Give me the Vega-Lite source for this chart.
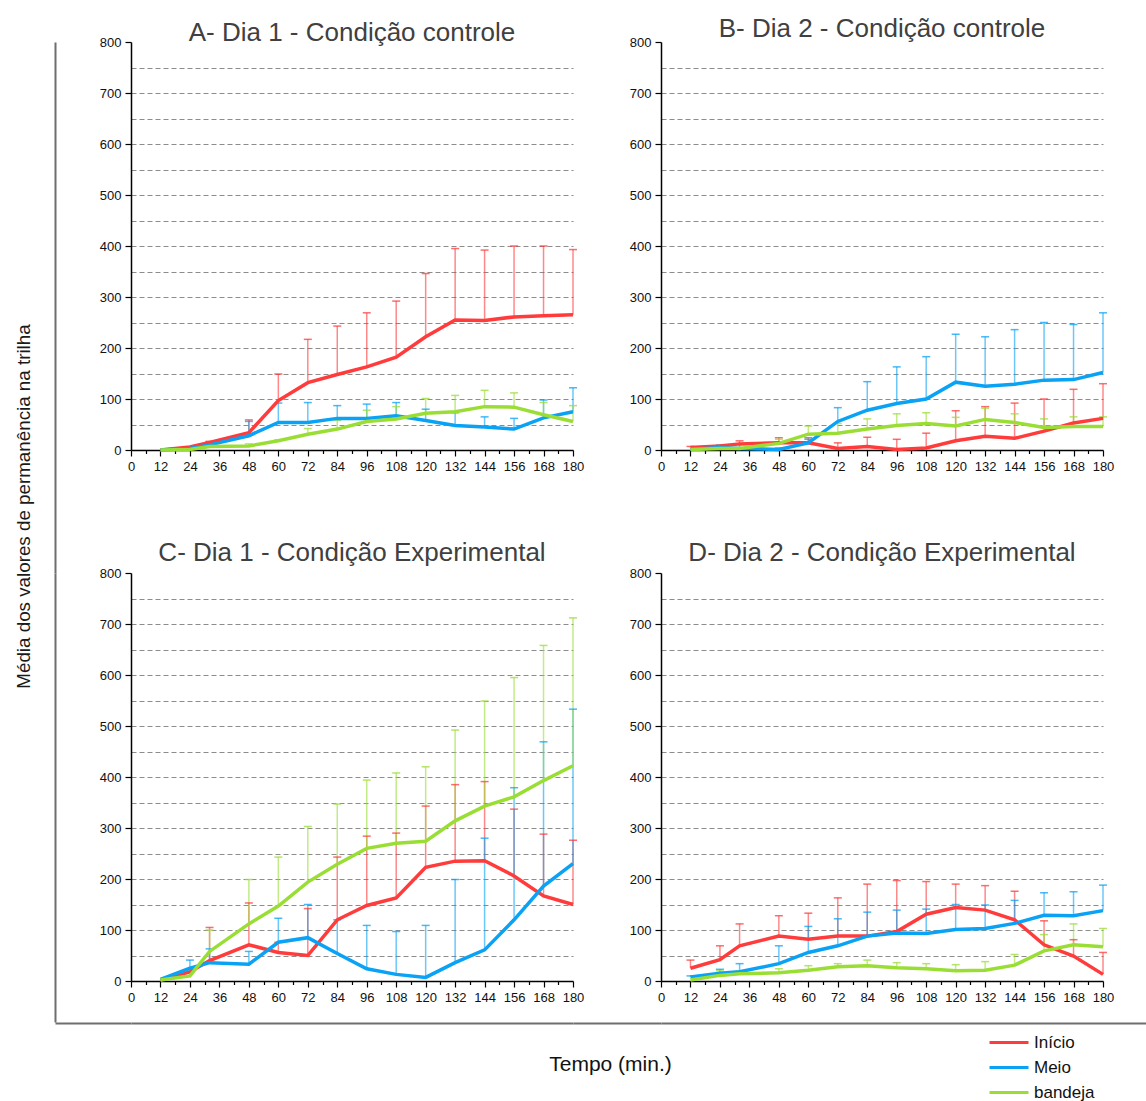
{
  "$schema": "https://vega.github.io/schema/vega-lite/v6.json",
  "background": "white",
  "padding": {"left": 14, "top": 16, "right": 0, "bottom": 0},
  "columns": 4,
  "bounds": "flush",
  "spacing": {"row": 0, "column": 0},
  "resolve": {"scale": {"color": "independent"}, "legend": {"color": "independent"}},
  "config": {
    "view": {"stroke": null},
    "font": "Liberation Sans",
    "title": {"font": "Liberation Sans", "fontSize": 26, "fontWeight": "normal", "color": "#404040", "frame": "group", "anchor": "middle", "baseline": "alphabetic"}
  },
  "datasets": {
    "medias": [
      {"p":"A","s":"Início","t":12,"m":0,"e":0},{"p":"A","s":"Início","t":24,"m":6,"e":6},{"p":"A","s":"Início","t":32,"m":15,"e":17},{"p":"A","s":"Início","t":48,"m":34,"e":59},{"p":"A","s":"Início","t":60,"m":97,"e":149},{"p":"A","s":"Início","t":72,"m":132,"e":217},{"p":"A","s":"Início","t":84,"m":148,"e":243},{"p":"A","s":"Início","t":96,"m":163,"e":269},{"p":"A","s":"Início","t":108,"m":182,"e":292},{"p":"A","s":"Início","t":120,"m":222,"e":346},{"p":"A","s":"Início","t":132,"m":255,"e":395},{"p":"A","s":"Início","t":144,"m":254,"e":392},{"p":"A","s":"Início","t":156,"m":261,"e":400},{"p":"A","s":"Início","t":168,"m":263,"e":400},{"p":"A","s":"Início","t":180,"m":265,"e":393},
      {"p":"A","s":"Meio","t":12,"m":0,"e":0},{"p":"A","s":"Meio","t":24,"m":3,"e":3},{"p":"A","s":"Meio","t":32,"m":10,"e":16},{"p":"A","s":"Meio","t":48,"m":28,"e":56},{"p":"A","s":"Meio","t":60,"m":54,"e":92},{"p":"A","s":"Meio","t":72,"m":54,"e":93},{"p":"A","s":"Meio","t":84,"m":62,"e":87},{"p":"A","s":"Meio","t":96,"m":62,"e":90},{"p":"A","s":"Meio","t":108,"m":67,"e":93},{"p":"A","s":"Meio","t":120,"m":58,"e":80},{"p":"A","s":"Meio","t":132,"m":48,"e":73},{"p":"A","s":"Meio","t":144,"m":45,"e":65},{"p":"A","s":"Meio","t":156,"m":41,"e":62},{"p":"A","s":"Meio","t":168,"m":63,"e":98},{"p":"A","s":"Meio","t":180,"m":75,"e":122},
      {"p":"A","s":"bandeja","t":12,"m":0,"e":0},{"p":"A","s":"bandeja","t":24,"m":1,"e":1},{"p":"A","s":"bandeja","t":32,"m":7,"e":10},{"p":"A","s":"bandeja","t":48,"m":8,"e":12},{"p":"A","s":"bandeja","t":60,"m":18,"e":20},{"p":"A","s":"bandeja","t":72,"m":31,"e":42},{"p":"A","s":"bandeja","t":84,"m":41,"e":58},{"p":"A","s":"bandeja","t":96,"m":56,"e":78},{"p":"A","s":"bandeja","t":108,"m":61,"e":85},{"p":"A","s":"bandeja","t":120,"m":72,"e":101},{"p":"A","s":"bandeja","t":132,"m":75,"e":107},{"p":"A","s":"bandeja","t":144,"m":85,"e":117},{"p":"A","s":"bandeja","t":156,"m":84,"e":112},{"p":"A","s":"bandeja","t":168,"m":69,"e":93},{"p":"A","s":"bandeja","t":180,"m":56,"e":87},
      {"p":"B","s":"Início","t":12,"m":5,"e":7},{"p":"B","s":"Início","t":24,"m":8,"e":8},{"p":"B","s":"Início","t":32,"m":12,"e":18},{"p":"B","s":"Início","t":48,"m":14,"e":24},{"p":"B","s":"Início","t":60,"m":14,"e":24},{"p":"B","s":"Início","t":72,"m":3,"e":14},{"p":"B","s":"Início","t":84,"m":7,"e":25},{"p":"B","s":"Início","t":96,"m":1,"e":21},{"p":"B","s":"Início","t":108,"m":4,"e":33},{"p":"B","s":"Início","t":120,"m":18,"e":77},{"p":"B","s":"Início","t":132,"m":27,"e":85},{"p":"B","s":"Início","t":144,"m":23,"e":92},{"p":"B","s":"Início","t":156,"m":37,"e":100},{"p":"B","s":"Início","t":168,"m":53,"e":119},{"p":"B","s":"Início","t":180,"m":62,"e":130},
      {"p":"B","s":"Meio","t":12,"m":1,"e":1},{"p":"B","s":"Meio","t":24,"m":5,"e":10},{"p":"B","s":"Meio","t":32,"m":3,"e":11},{"p":"B","s":"Meio","t":48,"m":1,"e":4},{"p":"B","s":"Meio","t":60,"m":14,"e":21},{"p":"B","s":"Meio","t":72,"m":56,"e":83},{"p":"B","s":"Meio","t":84,"m":78,"e":134},{"p":"B","s":"Meio","t":96,"m":91,"e":163},{"p":"B","s":"Meio","t":108,"m":100,"e":183},{"p":"B","s":"Meio","t":120,"m":133,"e":227},{"p":"B","s":"Meio","t":132,"m":125,"e":222},{"p":"B","s":"Meio","t":144,"m":129,"e":236},{"p":"B","s":"Meio","t":156,"m":137,"e":250},{"p":"B","s":"Meio","t":168,"m":138,"e":246},{"p":"B","s":"Meio","t":180,"m":152,"e":269},
      {"p":"B","s":"bandeja","t":12,"m":1,"e":1},{"p":"B","s":"bandeja","t":24,"m":3,"e":3},{"p":"B","s":"bandeja","t":32,"m":3,"e":5},{"p":"B","s":"bandeja","t":48,"m":13,"e":21},{"p":"B","s":"bandeja","t":60,"m":31,"e":47},{"p":"B","s":"bandeja","t":72,"m":33,"e":52},{"p":"B","s":"bandeja","t":84,"m":41,"e":61},{"p":"B","s":"bandeja","t":96,"m":48,"e":71},{"p":"B","s":"bandeja","t":108,"m":52,"e":73},{"p":"B","s":"bandeja","t":120,"m":47,"e":64},{"p":"B","s":"bandeja","t":132,"m":60,"e":82},{"p":"B","s":"bandeja","t":144,"m":54,"e":71},{"p":"B","s":"bandeja","t":156,"m":44,"e":61},{"p":"B","s":"bandeja","t":168,"m":46,"e":65},{"p":"B","s":"bandeja","t":180,"m":46,"e":65},
      {"p":"C","s":"Início","t":12,"m":2,"e":2},{"p":"C","s":"Início","t":24,"m":18,"e":18},{"p":"C","s":"Início","t":32,"m":40,"e":105},{"p":"C","s":"Início","t":48,"m":71,"e":153},{"p":"C","s":"Início","t":60,"m":56,"e":76},{"p":"C","s":"Início","t":72,"m":50,"e":142},{"p":"C","s":"Início","t":84,"m":120,"e":243},{"p":"C","s":"Início","t":96,"m":148,"e":284},{"p":"C","s":"Início","t":108,"m":163,"e":290},{"p":"C","s":"Início","t":120,"m":223,"e":343},{"p":"C","s":"Início","t":132,"m":235,"e":385},{"p":"C","s":"Início","t":144,"m":236,"e":391},{"p":"C","s":"Início","t":156,"m":206,"e":337},{"p":"C","s":"Início","t":168,"m":167,"e":288},{"p":"C","s":"Início","t":180,"m":150,"e":276},
      {"p":"C","s":"Meio","t":12,"m":3,"e":3},{"p":"C","s":"Meio","t":24,"m":25,"e":41},{"p":"C","s":"Meio","t":32,"m":36,"e":63},{"p":"C","s":"Meio","t":48,"m":33,"e":58},{"p":"C","s":"Meio","t":60,"m":76,"e":123},{"p":"C","s":"Meio","t":72,"m":85,"e":150},{"p":"C","s":"Meio","t":84,"m":54,"e":120},{"p":"C","s":"Meio","t":96,"m":24,"e":109},{"p":"C","s":"Meio","t":108,"m":13,"e":97},{"p":"C","s":"Meio","t":120,"m":7,"e":109},{"p":"C","s":"Meio","t":132,"m":36,"e":199},{"p":"C","s":"Meio","t":144,"m":61,"e":280},{"p":"C","s":"Meio","t":156,"m":120,"e":379},{"p":"C","s":"Meio","t":168,"m":186,"e":469},{"p":"C","s":"Meio","t":180,"m":230,"e":533},
      {"p":"C","s":"bandeja","t":12,"m":2,"e":2},{"p":"C","s":"bandeja","t":24,"m":10,"e":10},{"p":"C","s":"bandeja","t":32,"m":58,"e":100},{"p":"C","s":"bandeja","t":48,"m":112,"e":199},{"p":"C","s":"bandeja","t":60,"m":147,"e":243},{"p":"C","s":"bandeja","t":72,"m":194,"e":303},{"p":"C","s":"bandeja","t":84,"m":229,"e":347},{"p":"C","s":"bandeja","t":96,"m":260,"e":394},{"p":"C","s":"bandeja","t":108,"m":270,"e":408},{"p":"C","s":"bandeja","t":120,"m":274,"e":420},{"p":"C","s":"bandeja","t":132,"m":314,"e":492},{"p":"C","s":"bandeja","t":144,"m":343,"e":549},{"p":"C","s":"bandeja","t":156,"m":361,"e":595},{"p":"C","s":"bandeja","t":168,"m":393,"e":658},{"p":"C","s":"bandeja","t":180,"m":422,"e":712},
      {"p":"D","s":"Início","t":12,"m":25,"e":41},{"p":"D","s":"Início","t":24,"m":42,"e":69},{"p":"D","s":"Início","t":32,"m":69,"e":112},{"p":"D","s":"Início","t":48,"m":88,"e":128},{"p":"D","s":"Início","t":60,"m":82,"e":133},{"p":"D","s":"Início","t":72,"m":88,"e":163},{"p":"D","s":"Início","t":84,"m":88,"e":190},{"p":"D","s":"Início","t":96,"m":97,"e":197},{"p":"D","s":"Início","t":108,"m":131,"e":195},{"p":"D","s":"Início","t":120,"m":144,"e":190},{"p":"D","s":"Início","t":132,"m":139,"e":187},{"p":"D","s":"Início","t":144,"m":120,"e":176},{"p":"D","s":"Início","t":156,"m":71,"e":118},{"p":"D","s":"Início","t":168,"m":49,"e":81},{"p":"D","s":"Início","t":180,"m":13,"e":56},
      {"p":"D","s":"Meio","t":12,"m":8,"e":10},{"p":"D","s":"Meio","t":24,"m":15,"e":23},{"p":"D","s":"Meio","t":32,"m":18,"e":34},{"p":"D","s":"Meio","t":48,"m":34,"e":69},{"p":"D","s":"Meio","t":60,"m":56,"e":107},{"p":"D","s":"Meio","t":72,"m":69,"e":122},{"p":"D","s":"Meio","t":84,"m":88,"e":135},{"p":"D","s":"Meio","t":96,"m":94,"e":139},{"p":"D","s":"Meio","t":108,"m":93,"e":141},{"p":"D","s":"Meio","t":120,"m":101,"e":150},{"p":"D","s":"Meio","t":132,"m":103,"e":149},{"p":"D","s":"Meio","t":144,"m":113,"e":158},{"p":"D","s":"Meio","t":156,"m":129,"e":173},{"p":"D","s":"Meio","t":168,"m":128,"e":175},{"p":"D","s":"Meio","t":180,"m":138,"e":188},
      {"p":"D","s":"bandeja","t":12,"m":2,"e":2},{"p":"D","s":"bandeja","t":24,"m":11,"e":20},{"p":"D","s":"bandeja","t":32,"m":14,"e":20},{"p":"D","s":"bandeja","t":48,"m":16,"e":24},{"p":"D","s":"bandeja","t":60,"m":21,"e":30},{"p":"D","s":"bandeja","t":72,"m":28,"e":34},{"p":"D","s":"bandeja","t":84,"m":30,"e":41},{"p":"D","s":"bandeja","t":96,"m":26,"e":36},{"p":"D","s":"bandeja","t":108,"m":24,"e":34},{"p":"D","s":"bandeja","t":120,"m":20,"e":32},{"p":"D","s":"bandeja","t":132,"m":21,"e":38},{"p":"D","s":"bandeja","t":144,"m":31,"e":52},{"p":"D","s":"bandeja","t":156,"m":59,"e":91},{"p":"D","s":"bandeja","t":168,"m":71,"e":112},{"p":"D","s":"bandeja","t":180,"m":67,"e":103}
    ]
  },
  "concat": [
    {
      "width": 76,
      "height": 531,
      "data": {"values": [{"v": 0}]},
      "mark": {"type": "point", "opacity": 0},
      "encoding": {
        "y": {"field": "v", "type": "quantitative", "scale": {"domain": [0, 1]},
          "axis": {"title": "Média dos valores de permanência na trilha", "labels": false, "ticks": false, "grid": false, "domain": true, "domainColor": "#6e6e6e", "domainWidth": 2, "titleFont": "Liberation Sans", "titleFontSize": 18.8, "titleFontWeight": "normal", "titleColor": "#1a1a1a", "titlePadding": 22, "titleY": 464}}
      }
    },
    {
      "width": 442, "height": 408,
      "title": {"text": "A- Dia 1 - Condição controle", "offset": -10},
      "data": {"name": "medias"},
      "transform": [{"filter": "datum.p === 'A'"}],
      "encoding": {
        "x": {"field": "t", "type": "quantitative", "scale": {"domain": [0, 180], "nice": false, "zero": false},
          "axis": {"title": null, "values": [0,6,12,18,24,30,36,42,48,54,60,66,72,78,84,90,96,102,108,114,120,126,132,138,144,150,156,162,168,174,180], "labelExpr": "datum.value % 12 === 0 ? datum.label : ''", "labelOverlap": false, "labelFlush": false, "grid": false, "tickSize": {"condition": {"test": "datum.value % 12 === 0", "value": 6}, "value": 3.5}, "tickColor": "#000", "tickWidth": 1.2, "domainColor": "#000", "domainWidth": 1.5, "labelFontSize": 13, "labelColor": "#111", "labelPadding": 4}},
        "y": {"field": "m", "type": "quantitative", "title": null, "scale": {"domain": [0, 800], "nice": false},
          "axis": {"title": null, "values": [0,50,100,150,200,250,300,350,400,450,500,550,600,650,700,750,800], "labelExpr": "datum.value % 100 === 0 ? datum.label : ''", "labelOverlap": false, "tickOpacity": {"condition": {"test": "datum.value % 100 === 0", "value": 1}, "value": 0}, "tickSize": 6, "tickColor": "#000", "tickWidth": 1.2, "domainColor": "#000", "domainWidth": 1.5, "grid": true, "gridDash": [5, 3], "gridColor": "#8c8c8c", "gridWidth": 1, "gridOpacity": {"condition": {"test": "datum.value === 0 || datum.value === 800", "value": 0}, "value": 1}, "labelFontSize": 13, "labelColor": "#111", "labelPadding": 4}},
        "color": {"field": "s", "type": "nominal", "scale": {"domain": ["Início", "Meio", "bandeja"], "range": ["#ff3b3b", "#0aa2f5", "#9ade35"]}, "legend": null}
      },
      "layer": [
        {"transform": [{"filter": "datum.e > datum.m"}], "mark": {"type": "rule", "strokeWidth": 1.5, "opacity": 0.6}, "encoding": {"y2": {"field": "e"}}},
        {"transform": [{"filter": "datum.e > datum.m"}], "mark": {"type": "tick", "orient": "horizontal", "size": 8, "thickness": 1.5, "opacity": 0.75}, "encoding": {"y": {"field": "e", "type": "quantitative", "title": null}}},
        {"mark": {"type": "line", "strokeWidth": 3.5}}
      ]
    },
    {
      "width": 88,
      "height": 1,
      "data": {"values": [{"v": 0}]},
      "mark": {"type": "point", "opacity": 0}
    },
    {
      "width": 442, "height": 408,
      "title": {"text": "B- Dia 2 - Condição controle", "offset": -6},
      "data": {"name": "medias"},
      "transform": [{"filter": "datum.p === 'B'"}],
      "encoding": {
        "x": {"field": "t", "type": "quantitative", "scale": {"domain": [0, 180], "nice": false, "zero": false},
          "axis": {"title": null, "values": [0,6,12,18,24,30,36,42,48,54,60,66,72,78,84,90,96,102,108,114,120,126,132,138,144,150,156,162,168,174,180], "labelExpr": "datum.value % 12 === 0 ? datum.label : ''", "labelOverlap": false, "labelFlush": false, "grid": false, "tickSize": {"condition": {"test": "datum.value % 12 === 0", "value": 6}, "value": 3.5}, "tickColor": "#000", "tickWidth": 1.2, "domainColor": "#000", "domainWidth": 1.5, "labelFontSize": 13, "labelColor": "#111", "labelPadding": 4}},
        "y": {"field": "m", "type": "quantitative", "title": null, "scale": {"domain": [0, 800], "nice": false},
          "axis": {"title": null, "values": [0,50,100,150,200,250,300,350,400,450,500,550,600,650,700,750,800], "labelExpr": "datum.value % 100 === 0 ? datum.label : ''", "labelOverlap": false, "tickOpacity": {"condition": {"test": "datum.value % 100 === 0", "value": 1}, "value": 0}, "tickSize": 6, "tickColor": "#000", "tickWidth": 1.2, "domainColor": "#000", "domainWidth": 1.5, "grid": true, "gridDash": [5, 3], "gridColor": "#8c8c8c", "gridWidth": 1, "gridOpacity": {"condition": {"test": "datum.value === 0 || datum.value === 800", "value": 0}, "value": 1}, "labelFontSize": 13, "labelColor": "#111", "labelPadding": 4}},
        "color": {"field": "s", "type": "nominal", "scale": {"domain": ["Início", "Meio", "bandeja"], "range": ["#ff3b3b", "#0aa2f5", "#9ade35"]}, "legend": null}
      },
      "layer": [
        {"transform": [{"filter": "datum.e > datum.m"}], "mark": {"type": "rule", "strokeWidth": 1.5, "opacity": 0.6}, "encoding": {"y2": {"field": "e"}}},
        {"transform": [{"filter": "datum.e > datum.m"}], "mark": {"type": "tick", "orient": "horizontal", "size": 8, "thickness": 1.5, "opacity": 0.75}, "encoding": {"y": {"field": "e", "type": "quantitative", "title": null}}},
        {"mark": {"type": "line", "strokeWidth": 3.5}}
      ]
    },
    {
      "width": 76,
      "height": 449,
      "data": {"values": [{"v": 0}]},
      "mark": {"type": "point", "opacity": 0},
      "encoding": {
        "y": {"field": "v", "type": "quantitative", "scale": {"domain": [0, 1]},
          "axis": {"title": null, "labels": false, "ticks": false, "grid": false, "domain": true, "domainColor": "#6e6e6e", "domainWidth": 2}}
      }
    },
    {
      "width": 442, "height": 408,
      "title": {"text": "C- Dia 1 - Condição Experimental", "offset": 1},
      "data": {"name": "medias"},
      "transform": [{"filter": "datum.p === 'C'"}],
      "encoding": {
        "x": {"field": "t", "type": "quantitative", "scale": {"domain": [0, 180], "nice": false, "zero": false},
          "axis": {"title": null, "values": [0,6,12,18,24,30,36,42,48,54,60,66,72,78,84,90,96,102,108,114,120,126,132,138,144,150,156,162,168,174,180], "labelExpr": "datum.value % 12 === 0 ? datum.label : ''", "labelOverlap": false, "labelFlush": false, "grid": false, "tickSize": {"condition": {"test": "datum.value % 12 === 0", "value": 6}, "value": 3.5}, "tickColor": "#000", "tickWidth": 1.2, "domainColor": "#000", "domainWidth": 1.5, "labelFontSize": 13, "labelColor": "#111", "labelPadding": 4}},
        "y": {"field": "m", "type": "quantitative", "title": null, "scale": {"domain": [0, 800], "nice": false},
          "axis": {"title": null, "values": [0,50,100,150,200,250,300,350,400,450,500,550,600,650,700,750,800], "labelExpr": "datum.value % 100 === 0 ? datum.label : ''", "labelOverlap": false, "tickOpacity": {"condition": {"test": "datum.value % 100 === 0", "value": 1}, "value": 0}, "tickSize": 6, "tickColor": "#000", "tickWidth": 1.2, "domainColor": "#000", "domainWidth": 1.5, "grid": true, "gridDash": [5, 3], "gridColor": "#8c8c8c", "gridWidth": 1, "gridOpacity": {"condition": {"test": "datum.value === 0 || datum.value === 800", "value": 0}, "value": 1}, "labelFontSize": 13, "labelColor": "#111", "labelPadding": 4}},
        "color": {"field": "s", "type": "nominal", "scale": {"domain": ["Início", "Meio", "bandeja"], "range": ["#ff3b3b", "#0aa2f5", "#9ade35"]}, "legend": null}
      },
      "layer": [
        {"transform": [{"filter": "datum.e > datum.m"}], "mark": {"type": "rule", "strokeWidth": 1.5, "opacity": 0.6}, "encoding": {"y2": {"field": "e"}}},
        {"transform": [{"filter": "datum.e > datum.m"}], "mark": {"type": "tick", "orient": "horizontal", "size": 8, "thickness": 1.5, "opacity": 0.75}, "encoding": {"y": {"field": "e", "type": "quantitative", "title": null}}},
        {"mark": {"type": "line", "strokeWidth": 3.5}}
      ]
    },
    {
      "width": 88,
      "height": 1,
      "data": {"values": [{"v": 0}]},
      "mark": {"type": "point", "opacity": 0}
    },
    {
      "width": 442, "height": 408,
      "title": {"text": "D- Dia 2 - Condição Experimental", "offset": 1},
      "data": {"name": "medias"},
      "transform": [{"filter": "datum.p === 'D'"}],
      "encoding": {
        "x": {"field": "t", "type": "quantitative", "scale": {"domain": [0, 180], "nice": false, "zero": false},
          "axis": {"title": null, "values": [0,6,12,18,24,30,36,42,48,54,60,66,72,78,84,90,96,102,108,114,120,126,132,138,144,150,156,162,168,174,180], "labelExpr": "datum.value % 12 === 0 ? datum.label : ''", "labelOverlap": false, "labelFlush": false, "grid": false, "tickSize": {"condition": {"test": "datum.value % 12 === 0", "value": 6}, "value": 3.5}, "tickColor": "#000", "tickWidth": 1.2, "domainColor": "#000", "domainWidth": 1.5, "labelFontSize": 13, "labelColor": "#111", "labelPadding": 4}},
        "y": {"field": "m", "type": "quantitative", "title": null, "scale": {"domain": [0, 800], "nice": false},
          "axis": {"title": null, "values": [0,50,100,150,200,250,300,350,400,450,500,550,600,650,700,750,800], "labelExpr": "datum.value % 100 === 0 ? datum.label : ''", "labelOverlap": false, "tickOpacity": {"condition": {"test": "datum.value % 100 === 0", "value": 1}, "value": 0}, "tickSize": 6, "tickColor": "#000", "tickWidth": 1.2, "domainColor": "#000", "domainWidth": 1.5, "grid": true, "gridDash": [5, 3], "gridColor": "#8c8c8c", "gridWidth": 1, "gridOpacity": {"condition": {"test": "datum.value === 0 || datum.value === 800", "value": 0}, "value": 1}, "labelFontSize": 13, "labelColor": "#111", "labelPadding": 4}},
        "color": {"field": "s", "type": "nominal", "scale": {"domain": ["Início", "Meio", "bandeja"], "range": ["#ff3b3b", "#0aa2f5", "#9ade35"]}, "legend": null}
      },
      "layer": [
        {"transform": [{"filter": "datum.e > datum.m"}], "mark": {"type": "rule", "strokeWidth": 1.5, "opacity": 0.6}, "encoding": {"y2": {"field": "e"}}},
        {"transform": [{"filter": "datum.e > datum.m"}], "mark": {"type": "tick", "orient": "horizontal", "size": 8, "thickness": 1.5, "opacity": 0.75}, "encoding": {"y": {"field": "e", "type": "quantitative", "title": null}}},
        {"mark": {"type": "line", "strokeWidth": 3.5}}
      ]
    },
    {
      "width": 76,
      "height": 1,
      "data": {"values": [{"v": 0}]},
      "mark": {"type": "point", "opacity": 0},
      "encoding": {
        "x": {"field": "v", "type": "quantitative", "scale": {"domain": [0, 1]},
          "axis": {"title": null, "labels": false, "ticks": false, "grid": false, "domain": true, "domainColor": "#6e6e6e", "domainWidth": 2}}
      }
    },
    {
      "width": 442,
      "height": 1,
      "data": {"values": [{"v": 0}]},
      "mark": {"type": "point", "opacity": 0},
      "encoding": {
        "x": {"field": "v", "type": "quantitative", "scale": {"domain": [0, 1]},
          "axis": {"title": null, "labels": false, "ticks": false, "grid": false, "domain": true, "domainColor": "#6e6e6e", "domainWidth": 2}}
      }
    },
    {
      "width": 88,
      "height": 1,
      "data": {"values": [{"v": 0}]},
      "mark": {"type": "point", "opacity": 0},
      "encoding": {
        "x": {"field": "v", "type": "quantitative", "scale": {"domain": [0, 1]},
          "axis": {"title": "Tempo (min.)", "labels": false, "ticks": false, "grid": false, "domain": true, "domainColor": "#6e6e6e", "domainWidth": 2, "titleFont": "Liberation Sans", "titleFontSize": 21, "titleFontWeight": "normal", "titleColor": "#111", "titlePadding": 30, "titleX": 37}}
      }
    },
    {
      "width": 485,
      "height": 1,
      "data": {"values": [{"s": "Início"}, {"s": "Meio"}, {"s": "bandeja"}]},
      "mark": {"type": "line", "strokeWidth": 3},
      "encoding": {
        "x": {"datum": 0, "type": "quantitative", "scale": {"domain": [0, 1]},
          "axis": {"title": null, "labels": false, "ticks": false, "grid": false, "domain": true, "domainColor": "#6e6e6e", "domainWidth": 2}},
        "color": {"field": "s", "type": "nominal", "scale": {"domain": ["Início", "Meio", "bandeja"], "range": ["#ff3b3b", "#0aa2f5", "#9ade35"]},
          "legend": {"title": null, "orient": "none", "legendX": 327, "legendY": 8, "symbolType": "stroke", "symbolSize": 1521, "symbolStrokeWidth": 3, "labelFont": "Liberation Sans", "labelFontSize": 17, "labelColor": "#111", "labelOffset": 4, "clipHeight": 25, "rowPadding": 0, "padding": 0}}
      }
    }
  ]
}
